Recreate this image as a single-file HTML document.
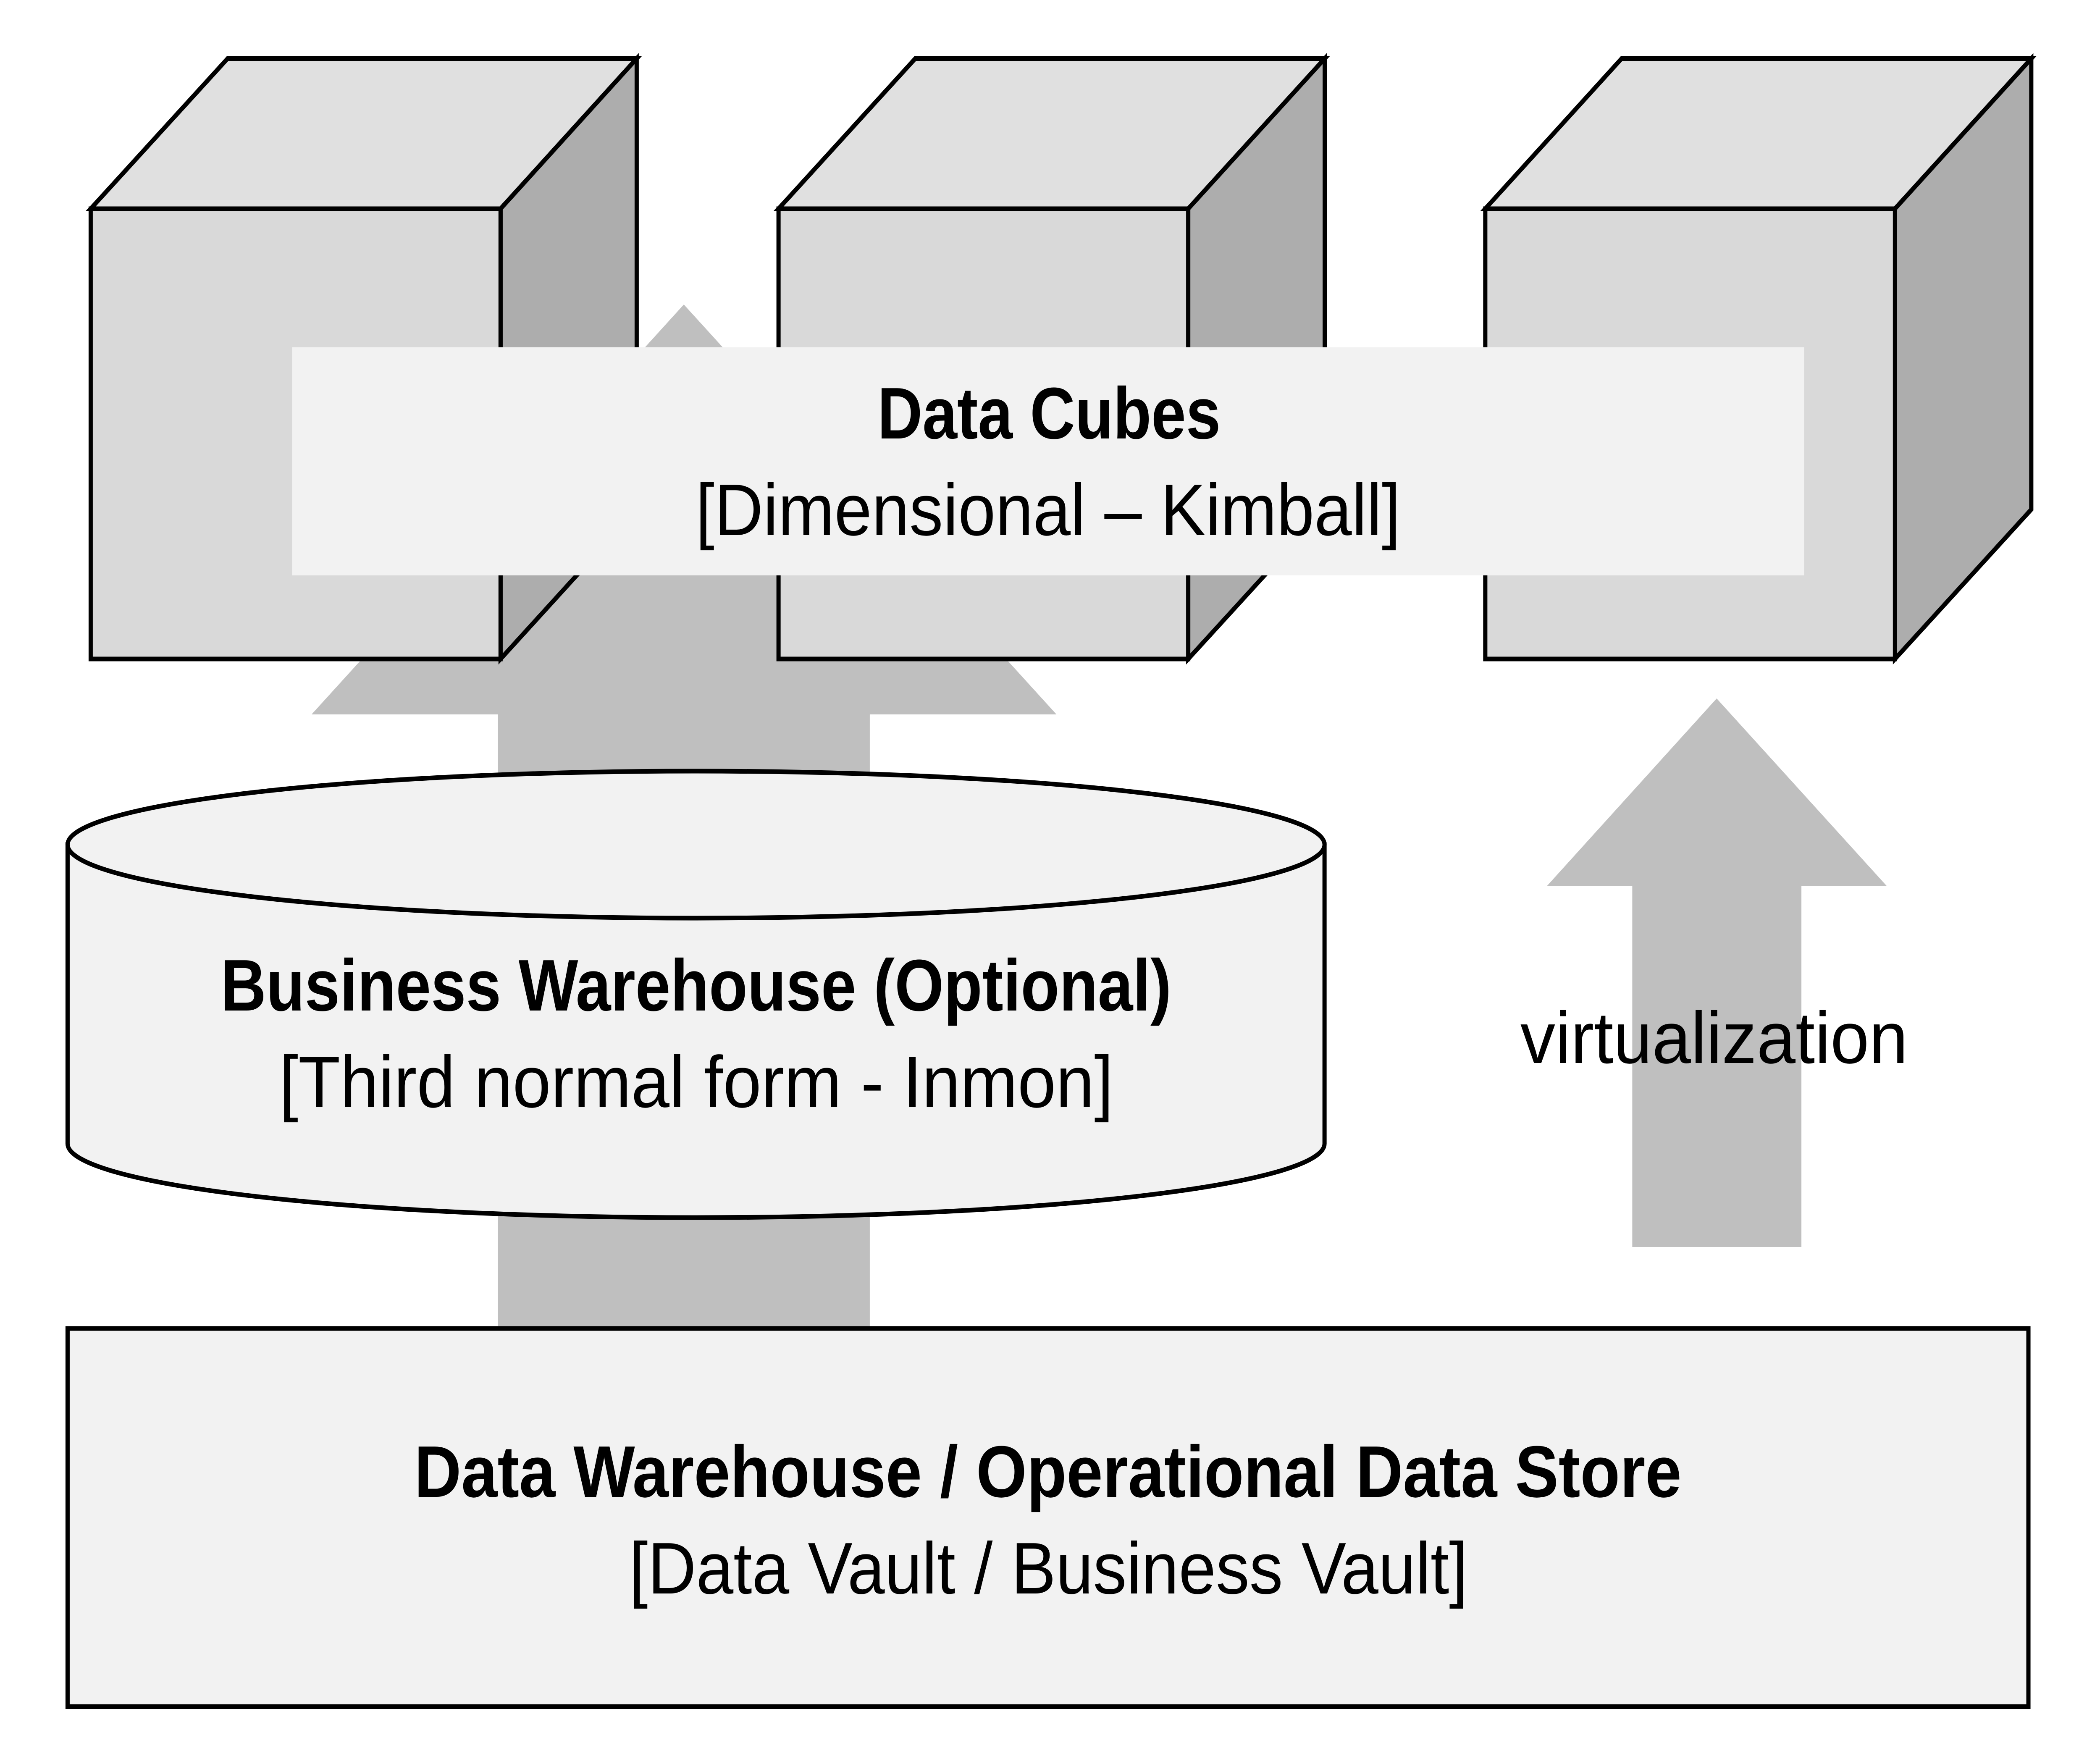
<!DOCTYPE html>
<html><head><meta charset="utf-8"><style>html,body{margin:0;padding:0;background:#fff;overflow:hidden;width:100vw;height:100vh}svg{display:block;position:absolute;left:0;top:0;width:100vw;height:100vh}text{font-family:"Liberation Sans",sans-serif;fill:#000;font-size:174px}.b{font-weight:bold}</style></head>
<body>
<svg viewBox="0 0 5500 4200" preserveAspectRatio="none" xmlns="http://www.w3.org/2000/svg">
<rect width="5500" height="4200" fill="#fff"/>
<!-- big arrow -->
<polygon points="1791,725 2767,1701 2278,1701 2278,3200 1304,3200 1304,1701 816,1701" fill="#bfbfbf"/>
<!-- small arrow -->
<polygon points="4496,1663 4941,2109 4718,2109 4718,2969 4275,2969 4275,2109 4052,2109" fill="#bfbfbf"/>
<!-- cubes -->
<g stroke="#000" stroke-width="11" stroke-linejoin="miter">
<g>
<polygon points="237.5,497 596,139.5 1667.5,139.5 1311,497" fill="#e0e0e0"/>
<polygon points="1311,497 1667.5,139.5 1667.5,1213 1311,1569" fill="#adadad"/>
<rect x="237.5" y="497" width="1073.5" height="1072" fill="#d9d9d9"/>
</g>
<g>
<polygon points="2039,497 2397,139.5 3469.5,139.5 3112,497" fill="#e0e0e0"/>
<polygon points="3112,497 3469.5,139.5 3469.5,1213 3112,1569" fill="#adadad"/>
<rect x="2039" y="497" width="1073" height="1072" fill="#d9d9d9"/>
</g>
<g>
<polygon points="3890,497 4247,139.5 5320,139.5 4963,497" fill="#e0e0e0"/>
<polygon points="4963,497 5320,139.5 5320,1213 4963,1569" fill="#adadad"/>
<rect x="3890" y="497" width="1073" height="1072" fill="#d9d9d9"/>
</g>
</g>
<!-- overlay -->
<rect x="765" y="827" width="3960" height="543" fill="#f2f2f2"/>
<!-- cylinder -->
<path d="M177,2011 L177,2723 A1646,176 0 0 0 3469,2723 L3469,2011 Z" fill="#f2f2f2" stroke="#000" stroke-width="11"/>
<ellipse cx="1823" cy="2011" rx="1646" ry="175" fill="#f2f2f2" stroke="#000" stroke-width="11"/>
<!-- data warehouse box -->
<rect x="177" y="3163" width="5135.5" height="900.5" fill="#f2f2f2" stroke="#000" stroke-width="11"/>
<!-- text -->
<text class="b" x="2298" y="1044" textLength="899" lengthAdjust="spacingAndGlyphs">Data Cubes</text>
<text x="1822" y="1274" textLength="1846" lengthAdjust="spacingAndGlyphs">[Dimensional – Kimball]</text>
<text class="b" x="578" y="2406" textLength="2490" lengthAdjust="spacingAndGlyphs">Business Warehouse (Optional)</text>
<text x="731" y="2636" textLength="2185" lengthAdjust="spacingAndGlyphs">[Third normal form - Inmon]</text>
<text class="b" x="1085" y="3564" textLength="3319" lengthAdjust="spacingAndGlyphs">Data Warehouse / Operational Data Store</text>
<text x="1648" y="3794" textLength="2196" lengthAdjust="spacingAndGlyphs">[Data Vault / Business Vault]</text>
<text x="3982" y="2531" textLength="1015" lengthAdjust="spacingAndGlyphs">virtualization</text>
</svg>
</body></html>
